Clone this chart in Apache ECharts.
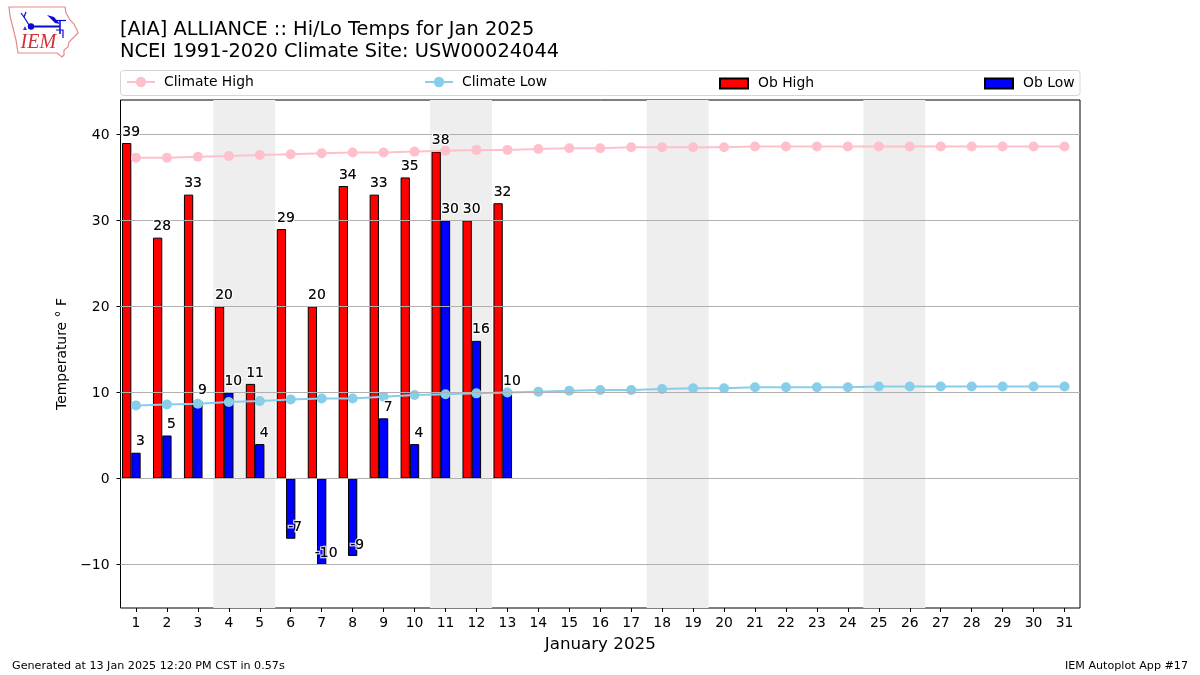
<!DOCTYPE html>
<html>
<head>
<meta charset="utf-8">
<style>html,body{margin:0;padding:0;background:#fff}#c{width:1200px;height:675px}</style>
<script src="https://cdn.jsdelivr.net/npm/echarts@6/dist/echarts.min.js"></script>
</head>
<body>
<div id="c"></div>
<script>
const days = ['1','2','3','4','5','6','7','8','9','10','11','12','13','14','15','16','17','18','19','20','21','22','23','24','25','26','27','28','29','30','31'];
const climateHigh = [37.3,37.3,37.4,37.5,37.6,37.7,37.8,37.9,37.9,38.0,38.1,38.2,38.2,38.3,38.4,38.4,38.5,38.5,38.5,38.5,38.6,38.6,38.6,38.6,38.6,38.6,38.6,38.6,38.6,38.6,38.6];
const climateLow = [8.5,8.6,8.7,8.9,9.0,9.2,9.3,9.3,9.5,9.7,9.8,9.9,10.0,10.1,10.2,10.3,10.3,10.4,10.5,10.5,10.6,10.6,10.6,10.6,10.7,10.7,10.7,10.7,10.7,10.7,10.7];
const obHigh = [39,28,33,20,11,29,20,34,33,35,38,30,32];
const obLow = [3,5,9,10,4,-7,-10,-9,7,4,30,16,10];
const weekendSpans = [[3.5,5.5],[10.5,12.5],[17.5,19.5],[24.5,26.5]];
const yTicks = [-10,0,10,20,30,40];
const titleText = '[AIA] ALLIANCE :: Hi/Lo Temps for Jan 2025\nNCEI 1991-2020 Climate Site: USW00024044';
const FONT = 'DejaVu Sans';

const chart = echarts.init(document.getElementById('c'), null, {renderer:'canvas'});

function labelSeries(values, dx, halo){
  return {
    type:'scatter', data:values, symbolSize:1, z:halo?6:7, silent:true,
    itemStyle:{color:'rgba(0,0,0,0)'},
    label:{show:true, position:'inside', offset:[dx,-11], formatter:p=>String(p.value),
      fontFamily:FONT, fontSize:13.9, color:'#000',
      textBorderColor:halo?'#fff':'transparent', textBorderWidth:halo?2.5:0}
  };
}
function legendAt(left, name, isBar){
  return {left, top:isBar?76.5:75, orient:'horizontal', data:[{name, icon:isBar?'rect':undefined}], itemWidth:28, itemHeight:isBar?10:13, itemGap:0, padding:0,
    selectedMode:false, textStyle:{fontFamily:FONT, fontSize:13.9, color:'#000', padding:[0,0,0,isBar?5:4]}};
}
const redBlack = {color:'#f00', borderColor:'#000', borderWidth:1};
const blueBlack = {color:'#00f', borderColor:'#000', borderWidth:1};

chart.setOption({
  animation:false,
  backgroundColor:'#fff',
  title:{text:titleText, left:120, top:19, padding:0,
    textStyle:{fontFamily:FONT, fontSize:19.4, fontWeight:'normal', color:'#000', lineHeight:22}},
  grid:{left:120.5, right:120, top:100, bottom:67, show:true, borderColor:'#000', borderWidth:1, backgroundColor:'transparent', containLabel:false},
  legend:[legendAt(126,'Climate High',false), legendAt(424,'Climate Low',false), legendAt(719,'Ob High',true), legendAt(984,'Ob Low',true)],
  xAxis:[
    {type:'category', data:days, boundaryGap:true, name:'January 2025', nameLocation:'middle', nameGap:28,
     nameTextStyle:{fontFamily:FONT, fontSize:16.7, color:'#000'},
     axisLine:{show:false, onZero:false},
     axisTick:{show:true, alignWithLabel:true, length:4, lineStyle:{color:'#000', width:1}},
     axisLabel:{fontFamily:FONT, fontSize:13.9, color:'#000', margin:8, interval:0},
     splitLine:{show:false}},
    {type:'value', min:0.5, max:31.5, show:false, splitLine:{show:false}}
  ],
  yAxis:{type:'value', min:-15.05, max:44, name:'Temperature ° F', nameLocation:'middle', nameGap:48,
    nameTextStyle:{fontFamily:FONT, fontSize:13.9, color:'#000'},
    axisLine:{show:false},
    axisTick:{show:true, length:4, lineStyle:{color:'#000', width:1}, customValues:yTicks},
    axisLabel:{fontFamily:FONT, fontSize:13.9, color:'#000', margin:11, customValues:yTicks, verticalAlign:'top', padding:[-6,0,0,0],
      formatter:v=>String(v).replace('-','\u2212')},
    splitLine:{show:false}},
  graphic:[
    {type:'rect', shape:{x:120.5,y:70.5,width:959.5,height:25,r:3}, style:{fill:'#fff',stroke:'#d5d5d5',lineWidth:1}, z:-1},
    {type:'text', style:{x:12,y:666,text:'Generated at 13 Jan 2025 12:20 PM CST in 0.57s',font:'11.15px "DejaVu Sans"',fill:'#000',textVerticalAlign:'middle'}},
    {type:'text', style:{x:1188,y:666,text:'IEM Autoplot App #17',font:'11.15px "DejaVu Sans"',fill:'#000',textAlign:'right',textVerticalAlign:'middle'}},
    {type:'polygon', shape:{points:[[9,7],[65,7],[66,13],[70,20],[74,24],[77,30],[78,33],[73,38],[69,42],[68,47],[64,50],[64,55],[62,57],[57,53],[18,53],[16,40],[13,28],[10,16]]},
      style:{fill:'#fff',stroke:'#e58a8a',lineWidth:1.2}},
    {type:'polyline', shape:{points:[[30,26.5],[60,26.5]]}, style:{stroke:'#0a0ad0',lineWidth:2,fill:null}},
    {type:'circle', shape:{cx:31,cy:26.5,r:3.2}, style:{fill:'#0a0ad0'}},
    {type:'polygon', shape:{points:[[47,15],[54,17],[60,24],[55,23]]}, style:{fill:'#0a0ad0'}},
    {type:'polyline', shape:{points:[[56,20.5],[66,20.5]]}, style:{stroke:'#0a0ad0',lineWidth:1.2,fill:null}},
    {type:'polyline', shape:{points:[[60,20],[60,34]]}, style:{stroke:'#0a0ad0',lineWidth:1.5,fill:null}},
    {type:'polyline', shape:{points:[[56,30],[63,30],[63,38]]}, style:{stroke:'#0a0ad0',lineWidth:1.2,fill:null}},
    {type:'polyline', shape:{points:[[29,25],[24,17],[26,12]]}, style:{stroke:'#0a0ad0',lineWidth:1.2,fill:null}},
    {type:'polyline', shape:{points:[[21,13],[24,17]]}, style:{stroke:'#0a0ad0',lineWidth:1.2,fill:null}},
    {type:'polygon', shape:{points:[[23,30],[25,26],[27,30]]}, style:{fill:'#3a3ad8'}},
    {type:'text', style:{x:20.5,y:53,text:'IEM',font:'italic 20px "Liberation Serif"',fill:'#d5303a',textVerticalAlign:'bottom'}}
  ],
  series:[
    {type:'line', xAxisIndex:1, data:[], z:0, silent:true,
     markArea:{silent:true, itemStyle:{color:'#eeeeee'}, label:{show:false},
       data:weekendSpans.map(s=>[{xAxis:s[0]},{xAxis:s[1]}])}},
    {name:'Ob High', type:'bar', data:obHigh, barWidth:9.3, barGap:'0%', z:2, itemStyle:redBlack},
    {name:'Ob Low', type:'bar', data:obLow, barWidth:9.3, barGap:'0%', z:2, itemStyle:blueBlack},
    {type:'bar', data:[], barWidth:9.3, barGap:'0%'},
    {type:'line', data:[], z:3, silent:true,
     markLine:{silent:true, symbol:'none', label:{show:false}, animation:false,
       lineStyle:{color:'#b0b0b0', width:1, type:'solid'},
       data:yTicks.map(v=>({yAxis:v}))}},
    {name:'Climate High', type:'line', data:climateHigh, z:4, symbol:'circle', symbolSize:10,
     lineStyle:{color:'#ffc0cb', width:2}, itemStyle:{color:'#ffc0cb'}},
    {name:'Climate Low', type:'line', data:climateLow, z:4, symbol:'circle', symbolSize:10,
     lineStyle:{color:'#87ceeb', width:2}, itemStyle:{color:'#87ceeb'}},
    labelSeries(obHigh, -4.8, true),
    labelSeries(obLow, 4.5, true),
    labelSeries(obHigh, -4.8, false),
    labelSeries(obLow, 4.5, false)
  ]
});
</script>
</body>
</html>
